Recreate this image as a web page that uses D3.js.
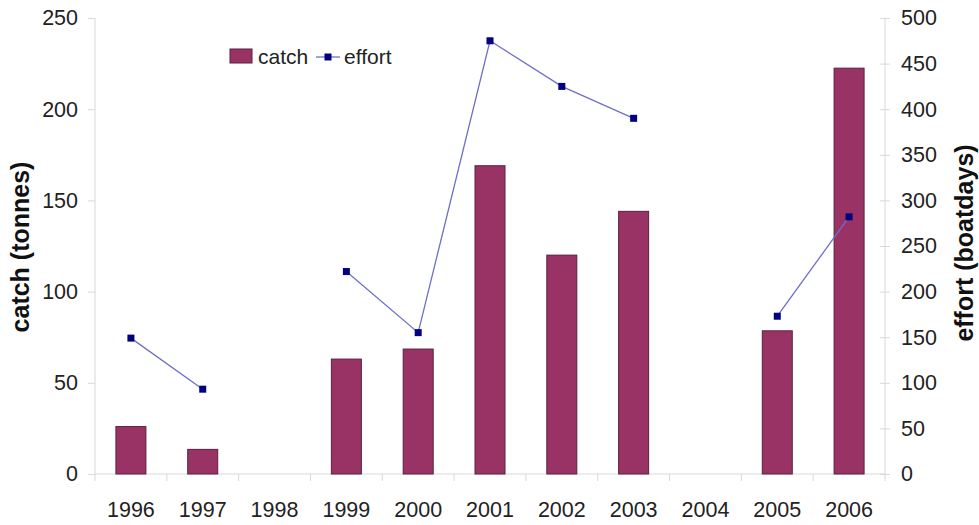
<!doctype html>
<html>
<head>
<meta charset="utf-8">
<script src="https://d3js.org/d3.v7.min.js"></script>
<style>
  body { margin: 0; background: #fff; }
  text { font-family: "Liberation Sans", Arial, sans-serif; fill: #222; }
  .tick text { font-size: 21.5px; }
  .title { font-size: 25px; font-weight: bold; fill: #111; }
  .legend text { font-size: 21px; }
</style>
</head>
<body>
<svg width="979" height="525"></svg>
<script>
// values (null = no data that year)
var years = ["1996","1997","1998","1999","2000","2001","2002","2003","2004","2005","2006"];
var catchT = [26, 13.5, null, 63, 68.5, 169, 120, 144, null, 78.5, 222.5];
var effort = [149, 93, null, 222, 155, 475, 425, 390, null, 173, 282];
var leftTicks = [0, 50, 100, 150, 200, 250];
var rightTicks = [0, 50, 100, 150, 200, 250, 300, 350, 400, 450, 500];

var svg = d3.select("svg");
var pL = 95, pR = 885, pT = 18, pB = 474;
var axisColor = "#d9d9d9";

var x = d3.scaleBand().domain(years).range([pL, pR]).padding(0);
var yL = d3.scaleLinear().domain([0, 250]).range([pB, pT]);
var yR = d3.scaleLinear().domain([0, 500]).range([pB, pT]);

// left axis
var gl = svg.append("g").attr("transform", "translate(" + pL + ",0)")
    .call(d3.axisLeft(yL).tickValues(leftTicks).tickSize(7).tickPadding(10));
// right axis
var gr = svg.append("g").attr("transform", "translate(" + pR + ",0)")
    .call(d3.axisRight(yR).tickValues(rightTicks).tickSize(5).tickPadding(11));
gr.selectAll(".tick line").attr("x1", -5);
// bottom axis: ticks at category boundaries
var gx = svg.append("g").attr("transform", "translate(0," + pB + ")")
    .call(d3.axisBottom(x).tickSize(0).tickPadding(28));
var bounds = years.map(function(d) { return x(d); }).concat([pR]);
gx.selectAll(".bnd").data(bounds).enter().append("line")
    .attr("x1", function(d) { return d; }).attr("x2", function(d) { return d; })
    .attr("y1", 0).attr("y2", 7).attr("stroke", axisColor);

[gl, gr, gx].forEach(function(g) {
  g.select(".domain").attr("stroke", axisColor);
  g.selectAll(".tick line").attr("stroke", axisColor);
  g.selectAll(".tick text").attr("fill", "#222").attr("font-family", null).attr("font-size", null);
});
gl.select(".domain").attr("d", "M0," + pT + "V" + pB);
gr.select(".domain").attr("d", "M0," + pT + "V" + pB);
gx.select(".domain").attr("d", "M" + pL + ",0H" + pR);

// bars
var bw = 30;
var rows = years.map(function(d, i) { return { year: d, c: catchT[i], e: effort[i] }; });
svg.append("g").selectAll("rect")
  .data(rows.filter(function(d) { return d.c != null; }))
  .enter().append("rect")
    .attr("x", function(d) { return x(d.year) + x.bandwidth() / 2 - bw / 2; })
    .attr("y", function(d) { return yL(d.c); })
    .attr("width", bw)
    .attr("height", function(d) { return pB - yL(d.c); })
    .attr("fill", "#993366")
    .attr("stroke", "#5a2040")
    .attr("stroke-width", 1);

// effort line
var line = d3.line()
    .defined(function(d) { return d.e != null; })
    .x(function(d) { return x(d.year) + x.bandwidth() / 2; })
    .y(function(d) { return yR(d.e); });
svg.append("path").datum(rows)
    .attr("d", line)
    .attr("fill", "none")
    .attr("stroke", "#6f6fc8")
    .attr("stroke-width", 1.3);
svg.append("g").selectAll("rect")
  .data(rows.filter(function(d) { return d.e != null; }))
  .enter().append("rect")
    .attr("x", function(d) { return x(d.year) + x.bandwidth() / 2 - 3.5; })
    .attr("y", function(d) { return yR(d.e) - 3.5; })
    .attr("width", 7).attr("height", 7)
    .attr("fill", "#000080");

// axis titles
svg.append("text").attr("class", "title")
    .attr("transform", "translate(29,247) rotate(-90)")
    .attr("text-anchor", "middle")
    .text("catch (tonnes)");
svg.append("text").attr("class", "title")
    .attr("transform", "translate(973,243) rotate(-90)")
    .attr("text-anchor", "middle")
    .text("effort (boatdays)");

// legend
var lg = svg.append("g").attr("class", "legend");
lg.append("rect").attr("x", 230).attr("y", 49).attr("width", 22).attr("height", 14)
    .attr("fill", "#993366").attr("stroke", "#5a2040");
lg.append("text").attr("x", 258).attr("y", 64).text("catch");
lg.append("line").attr("x1", 316).attr("x2", 340).attr("y1", 57).attr("y2", 57)
    .attr("stroke", "#6f6fc8").attr("stroke-width", 1.3);
lg.append("rect").attr("x", 324.5).attr("y", 53.5).attr("width", 7).attr("height", 7).attr("fill", "#000080");
lg.append("text").attr("x", 344).attr("y", 64).text("effort");
</script>
</body>
</html>
